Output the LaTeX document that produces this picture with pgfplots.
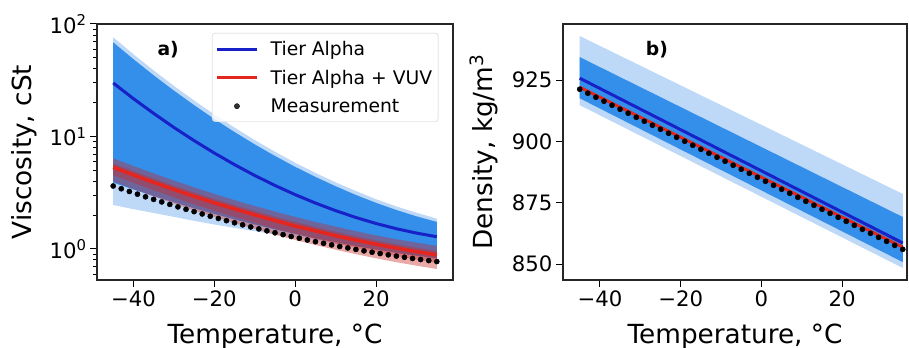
\documentclass[border=0pt]{standalone}
\usepackage{fontspec}
\setmainfont{DejaVu Sans}
\usepackage{pgfplots}
\pgfplotsset{compat=1.18}
\definecolor{bluelight}{RGB}{190,216,247}
\definecolor{bluedark}{RGB}{51,143,234}
\definecolor{blueline}{RGB}{24,32,200}
\definecolor{redline}{RGB}{228,38,30}
\definecolor{redband}{RGB}{200,40,40}
\pgfplotsset{
  panel/.style={
    scale only axis, height=256bp,
    tick align=outside, xtick pos=bottom, ytick pos=left,
    major tick length=7bp, minor tick length=4bp,
    every tick/.append style={black, line width=1bp},
    every minor tick/.append style={black, line width=0.8bp},
    axis line style={black!85, line width=1.2bp},
    xtick={-40,-20,0,20}, xticklabels={−40,−20,0,20},
    tick label style={font=\fontsize{21.3}{24}\selectfont},
    label style={font=\fontsize{26.4}{30}\selectfont},
    xlabel={Temperature, °C},
    xlabel style={at={(axis description cs:0.5,0)}, anchor=base, yshift=-63bp},
    legend image code/.code={\draw[mark repeat=2,mark phase=2,##1] plot coordinates {(0bp,0bp) (20bp,0bp) (40bp,0bp)};},
  }
}
\begin{document}
\begin{tikzpicture}
\path[use as bounding box] (0,0) rectangle (909bp,348bp);
% ---------------- panel a ----------------
\begin{axis}[panel, at={(97bp,68bp)}, anchor=south west, width=356bp,
  xmin=-49, xmax=39, ymode=log, ymin=0.53, ymax=100,
  ytick={1,10,100}, yticklabels={10\textsuperscript{0},10\textsuperscript{1},10\textsuperscript{2}},
  minor ytick={0.6,0.7,0.8,0.9,2,3,4,5,6,7,8,9,20,30,40,50,60,70,80,90},
  ylabel={Viscosity, cSt},
  ylabel style={at={(axis description cs:-0.1826,0.5)}, anchor=base, rotate=0},
  legend style={at={(axis description cs:0.323,0.965)}, anchor=north west,
    draw=black!20, rounded corners=3bp, fill=white, fill opacity=0.8, text opacity=1,
    font=\fontsize{18.8}{22}\selectfont, inner xsep=3bp, inner ysep=5bp,
    nodes={inner sep=3bp}, column sep=9bp, row sep=7bp},
  legend cell align=left]
\addplot[fill=bluelight, draw=none, forget plot] coordinates {
(-45,76.2) (-40,53.9) (-35,38.7) (-30,28.2) (-25,20.9) (-20,15.7) (-15,12.0) (-10,9.29) (-5,7.31) (0,5.84) (5,4.74) (10,3.91) (15,3.27) (20,2.77) (25,2.39) (30,2.10) (35,1.86)
(35,0.80) (30,0.86) (25,0.92) (20,0.98) (15,1.05) (10,1.11) (5,1.20) (0,1.27) (-5,1.35) (-10,1.44) (-15,1.54) (-20,1.65) (-25,1.78) (-30,1.93) (-35,2.09) (-40,2.26) (-45,2.46)};
\addplot[fill=bluedark, draw=none, forget plot] coordinates {
(-45,68.7) (-40,48.7) (-35,35.0) (-30,25.6) (-25,19.0) (-20,14.3) (-15,10.95) (-10,8.51) (-5,6.71) (0,5.37) (5,4.37) (10,3.61) (15,3.02) (20,2.57) (25,2.22) (30,1.95) (35,1.74)
(35,0.828) (30,0.873) (25,0.927) (20,0.99) (15,1.06) (10,1.15) (5,1.24) (0,1.36) (-5,1.49) (-10,1.65) (-15,1.83) (-20,2.05) (-25,2.30) (-30,2.60) (-35,2.96) (-40,3.38) (-45,3.89)};
\addplot[blueline, line width=3bp] coordinates {
(-45,29.9) (-40,21.7) (-35,16.05) (-30,12.04) (-25,9.19) (-20,7.13) (-15,5.62) (-10,4.50) (-5,3.67) (0,3.04) (5,2.56) (10,2.19) (15,1.905) (20,1.684) (25,1.514) (30,1.384) (35,1.285)};
\addlegendentry{Tier Alpha}
\addplot[fill=redband, fill opacity=0.4, draw=none, forget plot] coordinates {
(-45,6.40) (-40,5.47) (-35,4.70) (-30,4.06) (-25,3.53) (-20,3.09) (-15,2.72) (-10,2.41) (-5,2.15) (0,1.93) (5,1.74) (10,1.58) (15,1.44) (20,1.32) (25,1.22) (30,1.14) (35,1.064)
(35,0.664) (30,0.710) (25,0.763) (20,0.826) (15,0.899) (10,0.985) (5,1.085) (0,1.20) (-5,1.34) (-10,1.51) (-15,1.70) (-20,1.93) (-25,2.20) (-30,2.53) (-35,2.93) (-40,3.41) (-45,3.99)};
\addplot[fill=redband, fill opacity=0.4, draw=none, forget plot] coordinates {
(-45,5.77) (-40,4.93) (-35,4.24) (-30,3.66) (-25,3.19) (-20,2.79) (-15,2.46) (-10,2.18) (-5,1.94) (0,1.74) (5,1.57) (10,1.42) (15,1.30) (20,1.19) (25,1.10) (30,1.026) (35,0.959)
(35,0.753) (30,0.805) (25,0.866) (20,0.937) (15,1.02) (10,1.12) (5,1.23) (0,1.37) (-5,1.52) (-10,1.71) (-15,1.93) (-20,2.19) (-25,2.50) (-30,2.88) (-35,3.33) (-40,3.87) (-45,4.53)};
\addplot[redline, line width=3.5bp] coordinates {
(-45,5.32) (-40,4.55) (-35,3.91) (-30,3.38) (-25,2.94) (-20,2.57) (-15,2.27) (-10,2.01) (-5,1.79) (0,1.60) (5,1.45) (10,1.31) (15,1.20) (20,1.10) (25,1.018) (30,0.946) (35,0.885)};
\addlegendentry{Tier Alpha + VUV}
\addplot[only marks, mark=*, mark size=2.6bp, black] coordinates {
(-45,3.631) (-43,3.431) (-41,3.245) (-39,3.072) (-37,2.911) (-35,2.761) (-33,2.621) (-31,2.490) (-29,2.368) (-27,2.254) (-25,2.148) (-23,2.048) (-21,1.955) (-19,1.868) (-17,1.786) (-15,1.710) (-13,1.639) (-11,1.571) (-9,1.508) (-7,1.449) (-5,1.393) (-3,1.341) (-1,1.292) (1,1.246) (3,1.202) (5,1.161) (7,1.123) (9,1.087) (11,1.053) (13,1.021) (15,0.991) (17,0.962) (19,0.936) (21,0.911) (23,0.887) (25,0.865) (27,0.844) (29,0.824) (31,0.806) (33,0.789) (35,0.773)};
\addlegendentry{Measurement}
\node[font=\bfseries\fontsize{18.8}{22}\selectfont] at (axis description cs:0.2,0.898) {a)};
\end{axis}
% ---------------- panel b ----------------
\begin{axis}[panel, at={(563bp,68bp)}, anchor=south west, width=344bp,
  xmin=-49.14, xmax=36.05, ymin=843.5, ymax=947.9,
  ytick={850,875,900,925}, yticklabels={850,875,900,925},
  ylabel={Density, kg/m\textsuperscript{3}},
  ylabel style={at={(axis description cs:-0.2064,0.5)}, anchor=base, rotate=0}]
\addplot[fill=bluelight, draw=none] coordinates {(-45,943.0) (35,878.6) (35,848.4) (-45,914.8)};
\addplot[fill=bluedark, draw=none] coordinates {(-45,934.4) (35,869.2) (35,850.8) (-45,917.6)};
\addplot[blueline, line width=3bp] coordinates {(-45,925.8) (35,858.6)};
\addplot[redline, line width=3bp] coordinates {(-45,922.1) (35,856.9)};
\addplot[only marks, mark=*, mark size=2.6bp, black] coordinates {
(-45,921.30) (-43,919.67) (-41,918.04) (-39,916.40) (-37,914.77) (-35,913.14) (-33,911.51) (-31,909.87) (-29,908.24) (-27,906.61) (-25,904.98) (-23,903.34) (-21,901.71) (-19,900.08) (-17,898.45) (-15,896.81) (-13,895.18) (-11,893.55) (-9,891.92) (-7,890.28) (-5,888.65) (-3,887.02) (-1,885.39) (1,883.75) (3,882.12) (5,880.49) (7,878.86) (9,877.22) (11,875.59) (13,873.96) (15,872.33) (17,870.69) (19,869.06) (21,867.43) (23,865.80) (25,864.16) (27,862.53) (29,860.90) (31,859.27) (33,857.63) (35,856.00)};
\node[font=\bfseries\fontsize{18.8}{22}\selectfont] at (axis description cs:0.273,0.898) {b)};
\end{axis}
\end{tikzpicture}
\end{document}
